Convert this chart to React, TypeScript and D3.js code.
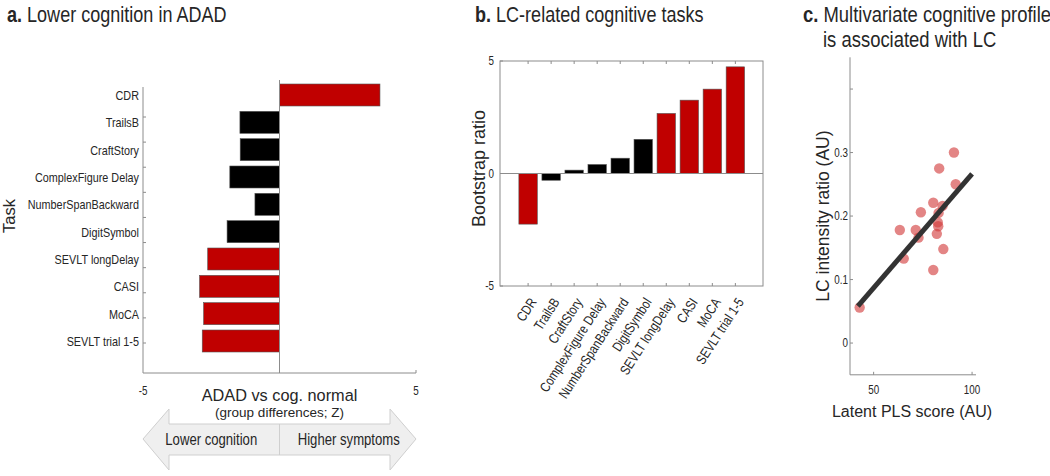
import React from 'react';
import * as d3 from 'd3';

const tasks = ['CDR', 'TrailsB', 'CraftStory', 'ComplexFigure Delay', 'NumberSpanBackward', 'DigitSymbol', 'SEVLT longDelay', 'CASI', 'MoCA', 'SEVLT trial 1-5'];
const groupZ = [3.68, -1.45, -1.44, -1.82, -0.9, -1.92, -2.63, -2.93, -2.78, -2.83];
const groupSig = [true, false, false, false, false, false, true, true, true, true];
const bootstrapRatio = [-2.25, -0.3, 0.15, 0.4, 0.68, 1.52, 2.67, 3.26, 3.75, 4.74];
const bsrSig = [true, false, false, false, false, false, true, true, true, true];
const plsScore = [90.8, 83.3, 91.7, 80.3, 85.0, 74.0, 83.0, 63.3, 71.4, 72.8, 82.6, 82.8, 82.1, 85.4, 65.3, 80.3, 42.9];
const lcRatio = [0.300, 0.275, 0.250, 0.221, 0.216, 0.206, 0.205, 0.178, 0.178, 0.166, 0.190, 0.184, 0.172, 0.148, 0.133, 0.115, 0.056];
const fitIntercept = -0.0927;
const fitSlope = 0.00359;
const fitRange = [42, 100];
const aTicks = [-5, 5];
const bTicks = [-5, 0, 5];
const cYTicks = [0, 0.1, 0.2, 0.3, 0.4];
const cYLabels = [0, 0.1, 0.2, 0.3];
const cXTicks = [50, 100];

const FF = "'Liberation Sans', Arial, sans-serif";
const RED = '#c00000';
const AX = '#8c8c8c';
const TXT = '#262626';
const NARROW = 0.82;

type NTProps = {
  x: number; y: number; size: number; anchor?: string; rotate?: number; fill?: string;
  children: React.ReactNode;
};
function NT({ x, y, size, anchor = 'start', rotate = 0, fill = TXT, children }: NTProps) {
  return (
    <text transform={`translate(${x},${y}) rotate(${rotate}) scale(${NARROW},1)`} fontSize={size}
      textAnchor={anchor} fill={fill}>{children}</text>
  );
}

export default function App() {
  // Panel a
  const xA = d3.scaleLinear().domain([-5, 5]).range([143, 416]);
  const yA = d3.scalePoint<string>().domain(tasks).range([95, 341]);
  const yATick = d3.scalePoint<string>().domain(tasks).range([117, 343]);
  const barHA = 22;
  const aTop = 87, aBottom = 373;

  // Panel b
  const xB = d3.scaleLinear().domain([-0.22, 11.2]).range([500, 763]);
  const yB = d3.scaleLinear().domain([-5, 5]).range([286, 61]);
  const bw = 0.8 * (xB(2) - xB(1));

  // Panel c
  const xC = d3.scaleLinear().domain([38, 102]).range([850, 976]);
  const yC = d3.scaleLinear().domain([-0.05, 0.45]).range([374.8, 57.3]);
  const fitLine = d3.line<number>().x((d) => xC(d)).y((d) => yC(fitIntercept + fitSlope * d));

  const ax0 = xA(-5), ax1 = xA(5), axm = xA(0);
  const arrowY = 439;
  const arrowPts = [
    [ax0, arrowY], [ax0 + 26, arrowY - 30], [ax0 + 26, arrowY - 15], [ax1 - 26, arrowY - 15], [ax1 - 26, arrowY - 30],
    [ax1, arrowY], [ax1 - 26, arrowY + 31], [ax1 - 26, arrowY + 16], [ax0 + 26, arrowY + 16], [ax0 + 26, arrowY + 31],
  ].map((p) => p.join(',')).join(' ');

  return (
    <svg width={1050} height={476} style={{ position: 'absolute', left: 0, top: 0, background: '#fff' }} fontFamily={FF}>
      {/* ---------- Panel a ---------- */}
      <NT x={7} y={22} size={22}>
        <tspan fontWeight="bold">a.</tspan> Lower cognition in ADAD
      </NT>
      <line x1={143} x2={143} y1={aTop} y2={aBottom} stroke={AX} strokeWidth={1} />
      <line x1={143} x2={416} y1={aBottom} y2={aBottom} stroke={AX} strokeWidth={1} />
      <line x1={416} x2={416} y1={aBottom} y2={aBottom - 3} stroke={AX} />
      {tasks.map((t) => (
        <line key={'at' + t} x1={143} x2={146} y1={yATick(t)} y2={yATick(t)} stroke={AX} />
      ))}
      {tasks.map((t, i) => (
        <rect key={'ab' + t} x={Math.min(xA(0), xA(groupZ[i]))} width={Math.abs(xA(groupZ[i]) - xA(0))}
          y={(yA(t) as number) - barHA / 2} height={barHA}
          fill={groupSig[i] ? RED : '#000'} stroke="#555" strokeWidth={0.6} />
      ))}
      <line x1={axm} x2={axm} y1={80} y2={aBottom} stroke={AX} strokeWidth={1} />
      {tasks.map((t) => (
        <NT key={'al' + t} x={139} y={(yA(t) as number) + 5} size={13.2} anchor="end">{t}</NT>
      ))}
      <text transform={`translate(15,216) rotate(-90)`} fontSize={16.5} textAnchor="middle" fill={TXT}>Task</text>
      {aTicks.map((v) => (
        <NT key={'ax' + v} x={xA(v)} y={395} size={12} anchor="middle">{v}</NT>
      ))}
      <text x={axm} y={401} fontSize={16.3} textAnchor="middle" fill={TXT}>ADAD vs cog. normal</text>
      <text x={axm} y={417} fontSize={13.5} textAnchor="middle" fill={TXT}>(group differences; Z)</text>
      <polygon points={arrowPts} fill="#efefef" stroke="#cfcfcf" strokeWidth={1} />
      <line x1={axm} x2={axm} y1={arrowY - 15} y2={arrowY + 16} stroke="#cfcfcf" />
      <NT x={(ax0 + axm) / 2} y={arrowY + 6} size={16} anchor="middle">Lower cognition</NT>
      <NT x={(axm + ax1) / 2 + 1} y={arrowY + 6} size={16} anchor="middle">Higher symptoms</NT>

      {/* ---------- Panel b ---------- */}
      <NT x={475} y={22} size={22}>
        <tspan fontWeight="bold">b.</tspan> LC-related cognitive tasks
      </NT>
      <rect x={xB(-0.22)} y={yB(5)} width={xB(11.2) - xB(-0.22)} height={yB(-5) - yB(5)} fill="none" stroke={AX} strokeWidth={1} />
      {tasks.map((t, i) => (
        <g key={'bt' + t}>
          <line x1={xB(i + 1)} x2={xB(i + 1)} y1={yB(5)} y2={yB(5) + 3} stroke={AX} />
          <line x1={xB(i + 1)} x2={xB(i + 1)} y1={yB(-5)} y2={yB(-5) - 3} stroke={AX} />
        </g>
      ))}
      {bTicks.map((v) => (
        <g key={'by' + v}>
          <line x1={500} x2={503} y1={yB(v)} y2={yB(v)} stroke={AX} />
          <NT x={494} y={yB(v) + 4} size={12} anchor="end">{v}</NT>
        </g>
      ))}
      {tasks.map((t, i) => (
        <rect key={'bb' + t} x={xB(i + 1) - bw / 2} width={bw}
          y={Math.min(yB(0), yB(bootstrapRatio[i]))} height={Math.abs(yB(bootstrapRatio[i]) - yB(0))}
          fill={bsrSig[i] ? RED : '#000'} stroke="#555" strokeWidth={0.6} />
      ))}
      <line x1={500} x2={763} y1={yB(0)} y2={yB(0)} stroke={AX} strokeWidth={1} />
      <text transform={`translate(485,${yB(0) - 5}) rotate(-90)`} fontSize={18} textAnchor="middle" fill={TXT}>Bootstrap ratio</text>
      {tasks.map((t, i) => (
        <NT key={'bl' + t} x={xB(i + 1) + 9} y={yB(-5) + 16} size={13.8} anchor="end" rotate={-57}>{t}</NT>
      ))}

      {/* ---------- Panel c ---------- */}
      <NT x={803} y={22} size={22.5}>
        <tspan fontWeight="bold">c.</tspan> Multivariate cognitive profile
      </NT>
      <NT x={823} y={47} size={22.5}>is associated with LC</NT>
      <line x1={850} x2={850} y1={yC(0.45)} y2={yC(-0.05)} stroke={AX} />
      <line x1={850} x2={976} y1={yC(-0.05)} y2={yC(-0.05)} stroke={AX} />
      {cYTicks.map((v) => (
        <line key={'cyt' + v} x1={850} x2={853} y1={yC(v)} y2={yC(v)} stroke={AX} />
      ))}
      {cYLabels.map((v) => (
        <NT key={'cyl' + v} x={848} y={yC(v) + 4} size={12} anchor="end">{v}</NT>
      ))}
      {cXTicks.map((v) => (
        <g key={'cx' + v}>
          <line x1={xC(v)} x2={xC(v)} y1={yC(-0.05)} y2={yC(-0.05) - 3} stroke={AX} />
          <NT x={xC(v)} y={yC(-0.05) + 19} size={12} anchor="middle">{v}</NT>
        </g>
      ))}
      {plsScore.map((s, i) => (
        <circle key={'cp' + i} cx={xC(s)} cy={yC(lcRatio[i])} r={5.2} fill="#d23a3a" fillOpacity={0.62} />
      ))}
      <path d={fitLine(fitRange) as string} stroke="#333" strokeWidth={5} fill="none" />
      <text transform={`translate(829,${yC(0.2)}) rotate(-90)`} fontSize={17.5} textAnchor="middle" fill={TXT}>LC intensity ratio (AU)</text>
      <text x={912} y={417} fontSize={16} textAnchor="middle" fill={TXT}>Latent PLS score (AU)</text>
    </svg>
  );
}
